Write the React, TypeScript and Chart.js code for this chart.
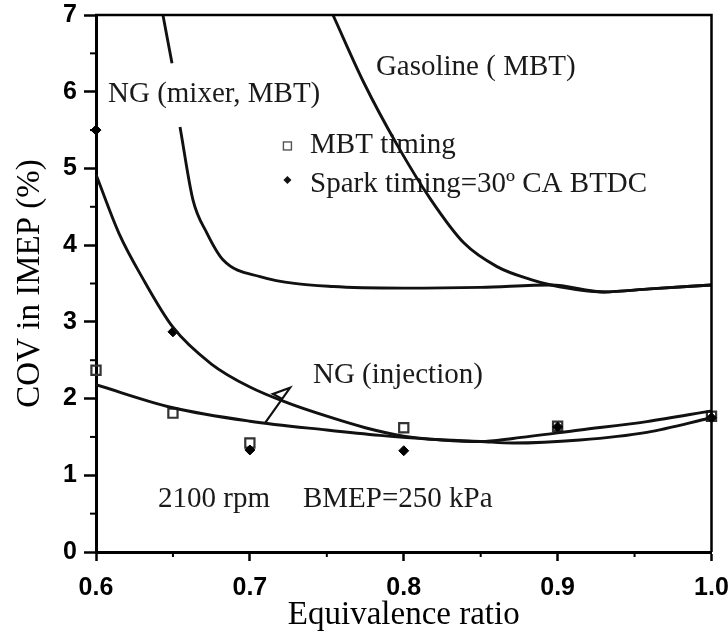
import React, { useEffect, useRef } from 'react';
import { Chart, registerables } from 'chart.js';

Chart.register(...registerables);

// ---- data (equivalence ratio vs COV in IMEP %) ----
const mbtPhi = [0.6, 0.65, 0.7, 0.8, 0.9, 1.0];
const mbtCov = [2.37, 1.81, 1.42, 1.62, 1.64, 1.77];

const sparkPhi = [0.6, 0.65, 0.7, 0.8, 0.9, 1.0];
const sparkCov = [5.5, 2.87, 1.33, 1.32, 1.63, 1.75];

const gasolinePhi = [0.754, 0.774, 0.7956, 0.8177, 0.839, 0.8606, 0.8827, 0.8957, 0.93, 0.96, 1.0];
const gasolineCov = [7.0, 6.12, 5.31, 4.59, 4.03, 3.72, 3.55, 3.48, 3.39, 3.43, 3.48];

const mixerTopPhi = [0.6435, 0.6494];
const mixerTopCov = [7.0, 6.37];

const mixerPhi = [0.6546, 0.663, 0.672, 0.6825, 0.7066, 0.754, 0.8, 0.85, 0.8957, 0.93, 0.96, 1.0];
const mixerCov = [5.54, 4.59, 4.16, 3.81, 3.59, 3.46, 3.44, 3.45, 3.48, 3.39, 3.43, 3.48];

const spark30Phi = [0.6, 0.615, 0.63, 0.65, 0.675, 0.7, 0.725, 0.75, 0.775, 0.8, 0.825, 0.85, 0.871, 0.9145, 0.958, 1.0];
const spark30Cov = [4.92, 4.15, 3.58, 2.93, 2.45, 2.15, 1.94, 1.77, 1.62, 1.51, 1.46, 1.44, 1.48, 1.59, 1.7, 1.84];

const injectionPhi = [0.6, 0.65, 0.7, 0.75, 0.7845, 0.817, 0.85, 0.871, 0.9145, 0.958, 1.0];
const injectionCov = [2.18, 1.88, 1.705, 1.59, 1.52, 1.47, 1.44, 1.42, 1.46, 1.56, 1.75];

const pointerPhi = [0.7098, 0.7261, 0.715, 0.7205];
const pointerCov = [1.68, 2.14, 2.06, 2.0];

// text annotations (anchored at left/baseline, in data coordinates)
const noteTexts = ['NG (mixer, MBT)', 'Gasoline ( MBT)', 'NG (injection)', '2100 rpm', 'BMEP=250 kPa'];
const notePhi = [0.6078, 0.7819, 0.741, 0.6403, 0.7345];
const noteCov = [5.866, 6.218, 2.203, 0.587, 0.587];

const legendTexts = ['MBT timing', 'Spark timing=30º CA BTDC'];

const X_MIN = 0.6;
const X_MAX = 1.0;
const Y_MIN = 0;
const Y_MAX = 7;

const zip = (xs: number[], ys: number[]) => xs.map((x, i) => ({ x, y: ys[i] }));

const SERIF = '"Liberation Serif", "Times New Roman", serif';
const SANS = '"Liberation Sans", Arial, sans-serif';

const decorPlugin = {
  id: 'decor',
  beforeDatasetsDraw(chart: any) {
    const { ctx, scales } = chart;
    const xs = scales.x;
    const ys = scales.y;
    ctx.save();
    ctx.fillStyle = '#1a1a1a';
    ctx.font = `29px ${SERIF}`;
    ctx.textAlign = 'left';
    ctx.textBaseline = 'alphabetic';
    noteTexts.forEach((t, i) => {
      ctx.fillText(t, xs.getPixelForValue(notePhi[i]), ys.getPixelForValue(noteCov[i]));
    });
    // legend
    const lx = xs.getPixelForValue(0.7244);
    const ly1 = ys.getPixelForValue(5.293);
    const ly2 = ys.getPixelForValue(4.849);
    ctx.strokeStyle = '#555';
    ctx.lineWidth = 1.4;
    ctx.strokeRect(lx - 4, ly1 - 4, 8, 8);
    ctx.fillStyle = '#111';
    ctx.beginPath();
    ctx.moveTo(lx, ly2 - 4);
    ctx.lineTo(lx + 4, ly2);
    ctx.lineTo(lx, ly2 + 4);
    ctx.lineTo(lx - 4, ly2);
    ctx.closePath();
    ctx.fill();
    ctx.fillStyle = '#1a1a1a';
    ctx.fillText(legendTexts[0], xs.getPixelForValue(0.7391), ys.getPixelForValue(5.201));
    ctx.fillText(legendTexts[1], xs.getPixelForValue(0.7391), ys.getPixelForValue(4.693));
    ctx.restore();
  },
  afterDraw(chart: any) {
    const { ctx, chartArea, scales } = chart;
    const { left, right, top, bottom } = chartArea;
    ctx.save();
    ctx.strokeStyle = '#000';
    ctx.lineWidth = 2.5;
    ctx.beginPath();
    ctx.moveTo(left - 1, top);
    ctx.lineTo(right, top);
    ctx.lineTo(right, bottom);
    ctx.stroke();
    // minor ticks
    ctx.lineWidth = 2;
    scales.x.ticks.forEach((t: any) => {
      const k = Math.round(t.value * 100);
      if (k % 10 !== 0) {
        const px = scales.x.getPixelForValue(t.value);
        ctx.beginPath();
        ctx.moveTo(px, bottom);
        ctx.lineTo(px, bottom + 5);
        ctx.stroke();
      }
    });
    scales.y.ticks.forEach((t: any) => {
      if (!Number.isInteger(t.value)) {
        const py = scales.y.getPixelForValue(t.value);
        ctx.beginPath();
        ctx.moveTo(left - 6, py);
        ctx.lineTo(left, py);
        ctx.stroke();
      }
    });
    ctx.restore();
  },
};

const curve = (data: any[], width = 2.9) => ({
  type: 'line',
  data,
  borderColor: '#111',
  borderWidth: width,
  pointRadius: 0,
  fill: false,
  cubicInterpolationMode: 'monotone',
  showLine: true,
});

export default function App() {
  const canvasRef = useRef<HTMLCanvasElement | null>(null);

  useEffect(() => {
    if (!canvasRef.current) return;
    const chart = new Chart(canvasRef.current, {
      type: 'scatter',
      data: {
        datasets: [
          curve(zip(gasolinePhi, gasolineCov)),
          curve(zip(mixerTopPhi, mixerTopCov)),
          curve(zip(mixerPhi, mixerCov)),
          curve(zip(spark30Phi, spark30Cov)),
          curve(zip(injectionPhi, injectionCov)),
          { ...curve(zip(pointerPhi, pointerCov), 2.2), cubicInterpolationMode: 'default', tension: 0 },
          {
            type: 'scatter',
            data: zip(sparkPhi, sparkCov),
            pointStyle: 'rectRot',
            pointRadius: 5,
            backgroundColor: '#000',
            borderColor: '#000',
            borderWidth: 1,
            clip: false,
          },
          {
            type: 'scatter',
            data: zip(mbtPhi, mbtCov),
            pointStyle: 'rect',
            pointRadius: 6.5,
            backgroundColor: 'rgba(0,0,0,0)',
            borderColor: '#333',
            borderWidth: 2.2,
            clip: false,
          },
        ] as any,
      },
      options: {
        animation: false,
        responsive: true,
        maintainAspectRatio: false,
        layout: { padding: { left: 0, right: 16.5, top: 15, bottom: 0 } },
        plugins: {
          legend: { display: false },
          tooltip: { enabled: false },
        },
        scales: {
          x: {
            type: 'linear',
            min: X_MIN,
            max: X_MAX,
            afterFit: (s: any) => {
              s.height = 83;
              s.paddingLeft = 0;
              s.paddingRight = 0;
            },
            ticks: {
              stepSize: 0.05,
              autoSkip: false,
              maxRotation: 0,
              padding: 12,
              color: '#000',
              font: { family: SANS, size: 25, weight: 'bold' },
              callback: (v: any) => {
                const k = Math.round(Number(v) * 100);
                return k % 10 === 0 ? (k / 100).toFixed(1) : '';
              },
            },
            grid: {
              drawOnChartArea: false,
              drawTicks: true,
              tickLength: 9,
              tickWidth: 2.5,
              tickColor: (c: any) =>
                c.tick && Math.round(c.tick.value * 100) % 10 === 0 ? '#000' : 'rgba(0,0,0,0)',
            },
            border: { display: true, color: '#000', width: 3 },
            title: {
              display: true,
              text: 'Equivalence ratio',
              color: '#000',
              font: { family: SERIF, size: 33, weight: 'normal' },
              padding: { top: 0, bottom: 0 },
            },
          },
          y: {
            type: 'linear',
            min: Y_MIN,
            max: Y_MAX,
            afterFit: (s: any) => {
              s.width = 96;
              s.paddingTop = 0;
              s.paddingBottom = 0;
            },
            ticks: {
              stepSize: 0.5,
              maxTicksLimit: 20,
              autoSkip: false,
              padding: 7,
              color: '#000',
              font: { family: SANS, size: 25, weight: 'bold' },
              callback: (v: any) => (Number.isInteger(Number(v)) ? String(v) : ''),
            },
            grid: {
              drawOnChartArea: false,
              drawTicks: true,
              tickLength: 12,
              tickWidth: 2.5,
              tickColor: (c: any) =>
                c.tick && Number.isInteger(c.tick.value) ? '#000' : 'rgba(0,0,0,0)',
            },
            border: { display: true, color: '#000', width: 3 },
            title: {
              display: true,
              text: 'COV in IMEP (%)',
              color: '#000',
              font: { family: SERIF, size: 33, weight: 'normal' },
              padding: { top: 11, bottom: 0 },
            },
          },
        },
      } as any,
      plugins: [decorPlugin],
    });
    return () => chart.destroy();
  }, []);

  return (
    <div style={{ position: 'absolute', left: 0, top: 0, width: 728, height: 635, background: '#fff' }}>
      <canvas ref={canvasRef} />
    </div>
  );
}
